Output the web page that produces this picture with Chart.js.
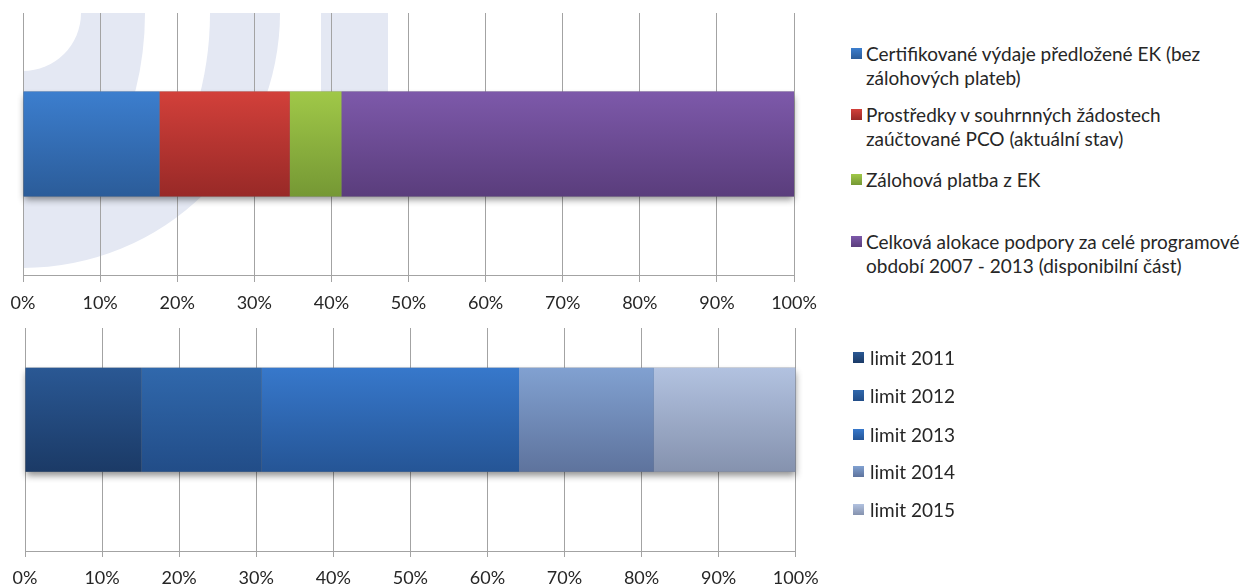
<!DOCTYPE html>
<html>
<head>
<meta charset="utf-8">
<script src="https://cdn.jsdelivr.net/npm/chart.js@4/dist/chart.umd.min.js"></script>
<style>
  html, body { margin:0; padding:0; background:#fff; width:1253px; height:587px; overflow:hidden; font-family: Lato, "Open Sans", sans-serif; }
  #wrap1 { position:absolute; left:0; top:0; width:830px; height:326px; }
  #wrap2 { position:absolute; left:0; top:316px; width:830px; height:285px; }
  .item { position:absolute; font-size:19px; line-height:24px; color:#262626; white-space:nowrap; }
  .box { position:absolute; width:11px; height:11px; }
  .txt { position:absolute; top:0; }
</style>
</head>
<body>
<div id="wrap1"><canvas id="c1"></canvas></div>
<div id="wrap2"><canvas id="c2"></canvas></div>
<div id="legend1"></div>
<div id="legend2"></div>
<script>
// ---------- DATA ----------
const categories = [''];
const topSeriesLines = [
  ['Certifikované výdaje předložené EK (bez', 'zálohových plateb)'],
  ['Prostředky v souhrnných žádostech', 'zaúčtované PCO (aktuální stav)'],
  ['Zálohová platba z EK'],
  ['Celková alokace podpory za celé programové', 'období 2007 - 2013 (disponibilní část)']
];
const topValues = [17.7, 16.9, 6.7, 58.7];

const bottomSeries = ['limit 2011', 'limit 2012', 'limit 2013', 'limit 2014', 'limit 2015'];
const bottomValues = [15.1, 15.6, 33.4, 17.5, 18.4];

const tickMin = 0, tickMax = 100, tickStep = 10;

// ---------- STYLES ----------
const topColors = [
  ['rgb(60,126,206)', 'rgb(43,92,153)'],
  ['rgb(210,64,58)', 'rgb(152,41,39)'],
  ['rgb(160,200,72)', 'rgb(117,152,52)'],
  ['rgb(125,89,170)', 'rgb(90,61,124)']
];
const bottomColors = [
  ['rgb(42,88,148)', 'rgb(27,58,102)'],
  ['rgb(48,104,172)', 'rgb(34,77,136)'],
  ['rgb(55,120,203)', 'rgb(37,85,150)'],
  ['rgb(129,161,209)', 'rgb(94,115,157)'],
  ['rgb(178,194,224)', 'rgb(133,146,174)']
];
const gridColor = '#a3a3a3';
const textColor = '#262626';
const FONT = 'Lato, "Open Sans", sans-serif';

function gradientFor(colors, barPct) {
  return (ctx) => {
    const chart = ctx.chart;
    const yS = chart.scales.y;
    const c = colors[ctx.datasetIndex];
    if (!chart.chartArea || !yS) return c[0];
    const center = yS.getPixelForValue(ctx.dataIndex);
    const half = (yS.height / yS.getLabels().length) * barPct / 2;
    const g = chart.ctx.createLinearGradient(0, center - half, 0, center + half);
    g.addColorStop(0, c[0]);
    g.addColorStop(1, c[1]);
    return g;
  };
}

const shadowPlugin = {
  id: 'barShadow',
  beforeDatasetsDraw(chart) {
    const n = chart.data.datasets.length;
    const first = chart.getDatasetMeta(0).data[0];
    const last = chart.getDatasetMeta(n - 1).data[0];
    if (!first || !last) return;
    const a = first.getProps(['base', 'y', 'height'], true);
    const b = last.getProps(['x'], true);
    const ctx = chart.ctx;
    ctx.save();
    ctx.shadowColor = 'rgba(0,0,0,0.45)';
    ctx.shadowBlur = 7;
    ctx.shadowOffsetY = 4;
    ctx.fillStyle = '#777';
    ctx.fillRect(a.base, a.y - a.height / 2, b.x - a.base, a.height);
    ctx.restore();
  }
};

const watermarkPlugin = {
  id: 'watermark',
  beforeDraw(chart) {
    const a = chart.chartArea;
    if (!a) return;
    const ctx = chart.ctx;
    const light = 'rgb(228,232,243)';
    const cx = a.left, cy = a.top;
    ctx.save();
    ctx.beginPath(); ctx.rect(a.left, a.top, a.width, a.height); ctx.clip();
    ctx.fillStyle = light;
    ctx.beginPath(); ctx.moveTo(cx, cy); ctx.ellipse(cx, cy, 257, 255, 0, 0, Math.PI / 2); ctx.closePath(); ctx.fill();
    ctx.save();
    ctx.beginPath(); ctx.rect(cx, cy, 400, 135); ctx.clip();
    ctx.fillStyle = '#fff';
    ctx.beginPath(); ctx.moveTo(cx, cy); ctx.ellipse(cx, cy, 187, 250, 0, 0, Math.PI / 2); ctx.closePath(); ctx.fill();
    ctx.fillStyle = light;
    ctx.beginPath(); ctx.moveTo(cx, cy); ctx.ellipse(cx, cy, 122, 200, 0, 0, Math.PI / 2); ctx.closePath(); ctx.fill();
    ctx.restore();
    ctx.fillStyle = '#fff';
    ctx.beginPath(); ctx.arc(cx, cy, 58, 0, Math.PI * 2); ctx.fill();
    ctx.fillStyle = light;
    ctx.fillRect(cx + 298, cy, 67, 140);
    ctx.restore();
  }
};

const axisLinePlugin = {
  id: 'axisLine',
  beforeDatasetsDraw(chart, args, opts) {
    const xS = chart.scales.x;
    const y = Math.round(chart.chartArea.bottom + opts.offset) + 0.5;
    const ctx = chart.ctx;
    ctx.save();
    ctx.strokeStyle = gridColor;
    ctx.lineWidth = 1;
    ctx.beginPath();
    ctx.moveTo(xS.getPixelForValue(tickMin), y);
    ctx.lineTo(xS.getPixelForValue(tickMax), y);
    ctx.stroke();
    ctx.restore();
  }
};

function makeChart(id, labels, values, colors, barPct, padding, tickLength, extraPlugins, pluginOpts, showBorder) {
  const datasets = values.map((v, i) => ({
    label: labels[i],
    data: [v],
    backgroundColor: gradientFor(colors, barPct),
    borderWidth: 0,
    categoryPercentage: 1,
    barPercentage: barPct
  }));
  return new Chart(document.getElementById(id), {
    type: 'bar',
    data: { labels: categories, datasets },
    options: {
      indexAxis: 'y',
      responsive: true,
      maintainAspectRatio: false,
      animation: false,
      layout: { padding },
      plugins: Object.assign({ legend: { display: false }, tooltip: { enabled: false } }, pluginOpts),
      scales: {
        x: {
          stacked: true,
          min: tickMin, max: tickMax,
          ticks: {
            stepSize: tickStep,
            callback: v => v + '%',
            color: textColor,
            font: { family: FONT, size: 18 },
            padding: 10,
            maxRotation: 0
          },
          grid: { color: gridColor, lineWidth: 1, tickLength: tickLength, drawTicks: true },
          border: { display: showBorder, color: gridColor, width: 1 }
        },
        y: { stacked: true, display: false }
      }
    },
    plugins: extraPlugins
  });
}

makeChart('c1', topSeriesLines.map(l => l.join(' ')), topValues, topColors, 0.4,
  { left: 23, right: 36, top: 13, bottom: 2.4 }, 7, [watermarkPlugin, shadowPlugin], {}, true);

makeChart('c2', bottomSeries, bottomValues, bottomColors, 0.567,
  { left: 25, right: 34.3, top: 12, bottom: 2.4 }, 45.5, [shadowPlugin, axisLinePlugin], { axisLine: { offset: 39.5 } }, false);

// ---------- HTML legends ----------
function buildLegend(containerId, entries, colors, centers, boxX, textX) {
  const el = document.getElementById(containerId);
  entries.forEach((lines, i) => {
    const item = document.createElement('div');
    item.className = 'item';
    item.style.left = boxX + 'px';
    item.style.top = (centers[i] - 12) + 'px';
    const box = document.createElement('div');
    box.className = 'box';
    box.style.top = '6px';
    box.style.background = 'linear-gradient(' + colors[i][0] + ',' + colors[i][1] + ')';
    const txt = document.createElement('div');
    txt.className = 'txt';
    txt.style.left = (textX - boxX) + 'px';
    lines.forEach((line) => {
      const d = document.createElement('div');
      d.textContent = line;
      txt.appendChild(d);
    });
    item.appendChild(box);
    item.appendChild(txt);
    el.appendChild(item);
  });
}
buildLegend('legend1', topSeriesLines, topColors, [54, 115, 180, 242], 851, 866);
buildLegend('legend2', bottomSeries.map(s => [s]), bottomColors, [358, 396, 435, 472, 510], 853, 870);
</script>
</body>
</html>
